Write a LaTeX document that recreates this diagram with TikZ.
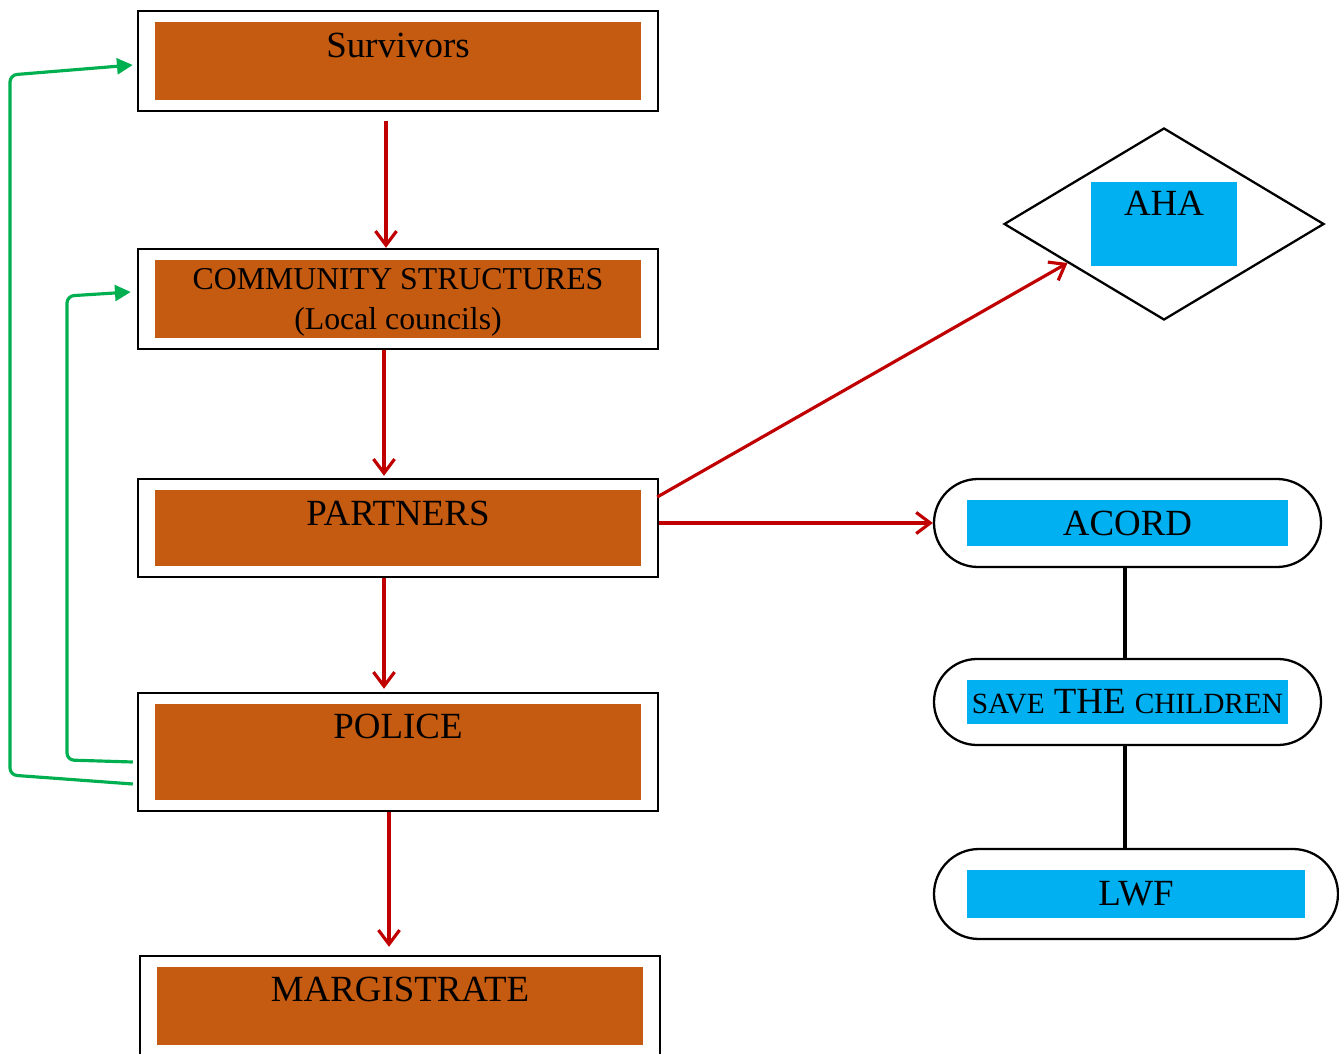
\documentclass[tikz,border=0pt]{standalone}
\usepackage{fontspec}
\setmainfont{Liberation Serif}
\usetikzlibrary{arrows.meta, shapes.geometric, shapes.misc}

\definecolor{rust}{HTML}{C55A11}
\definecolor{skyfill}{HTML}{00B0F0}
\definecolor{flowred}{HTML}{C00000}
\definecolor{loopgreen}{HTML}{00B050}

\def\pu{0.02cm}
\newcommand\scword[1]{{\fontsize{16.7}{20}\selectfont #1}}

\tikzset{
    stagebox/.style={draw, line width=1.4pt, fill=white, inner sep=0pt,
        minimum width=520*\pu, minimum height=#1*\pu,
        font=\fontsize{21}{25}\selectfont, text height=0.7em,
        path picture={\fill[rust]
            ([shift={(9.4pt,-6pt)}]path picture bounding box.north west) rectangle
            ([shift={(-9.4pt,6pt)}]path picture bounding box.south east);}},
    agency/.style={draw, line width=1.3pt, fill=white, inner sep=0pt,
        rounded rectangle, minimum width=#1*\pu, minimum height=88*\pu,
        font=\fontsize{21}{25}\selectfont,
        path picture={\fill[skyfill]
            ([shift={(18.8pt,-12pt)}]path picture bounding box.north west) rectangle
            ([shift={(-18.8pt,12pt)}]path picture bounding box.south east);}},
    flow/.style={draw=flowred, line width=1.8pt, -{Straight Barb[length=8pt,width=12pt]}},
    backflow/.style={draw=loopgreen, line width=1.8pt, rounded corners=4pt,
        -{Triangle[length=9pt,width=9pt]}},
    link/.style={draw=black, line width=1.8pt}
}

\begin{document}
\begin{tikzpicture}[x=\pu, y=-\pu]
    \useasboundingbox (0,0) rectangle (1339,1054);

    % Main chain
    \node[stagebox=100, text depth=20*\pu] (surv) at (398,61) {Survivors};
    \node[stagebox=100, align=center, font=\fontsize{18.1}{22.8}\selectfont,
        text height=66*\pu, text depth=4*\pu]
        (comm) at (398,299) {COMMUNITY STRUCTURES\\(Local councils)};
    \node[stagebox=98, text depth=18*\pu] (partners) at (398,528) {PARTNERS};
    \node[stagebox=118, text depth=40*\pu] (police) at (398,752) {POLICE};
    \node[stagebox=100, text depth=22*\pu] (marg) at (400,1006) {MARGISTRATE};

    % Agencies
    \node[diamond, draw, line width=1.3pt, inner sep=0pt, aspect=1.667,
        minimum width=320*\pu, minimum height=192*\pu,
        font=\fontsize{21}{25}\selectfont, text height=0.7em, text depth=30*\pu,
        path picture={\fill[skyfill]
            ([shift={(49.3pt,-30.3pt)}]path picture bounding box.north west) rectangle
            ([shift={(-49.3pt,30.3pt)}]path picture bounding box.south east);}]
        (aha) at (1164,224) {AHA};
    \node[agency=387] (acord) at (1127.5,523) {ACORD};
    \node[agency=387, minimum height=86*\pu] (save) at (1127.5,702)
        {\scword{SAVE} THE \scword{CHILDREN}};
    \node[agency=404, minimum height=90*\pu] (lwf) at (1136,894) {LWF};

    % Red arrows
    \draw[flow] ([shift={(-12,9)}]surv.south) -- ([shift={(-12,0)}]comm.north);
    \draw[flow] ([shift={(-14,0)}]comm.south) -- ([shift={(-14,-2)}]partners.north);
    \draw[flow] ([shift={(-14,0)}]partners.south) -- ([shift={(-14,-3)}]police.north);
    \draw[flow] ([shift={(-9,0)}]police.south) -- ([shift={(-11,-8)}]marg.north);
    \draw[flow] ([shift={(-2,-31)}]partners.east) -- (aha.202);
    \draw[flow] (acord.west -| partners.east) -- (acord.west);

    % Black links
    \draw[link] ([shift={(-2.5,0)}]acord.south) -- ([shift={(-2.5,0)}]save.north);
    \draw[link] ([shift={(-2.5,0)}]save.south) -- ([shift={(-2.5,0)}]save.south |- lwf.north);

    % Green feedback
    \draw[backflow] ([shift={(-4,32)}]police.west) -- (10,775) -- (10,75)
        -- ([shift={(-4,4)}]surv.west);
    \draw[backflow] ([shift={(-4,10)}]police.west) -- (67,760) -- (67,296)
        -- ([shift={(-6,-7)}]comm.west);
\end{tikzpicture}
\end{document}
